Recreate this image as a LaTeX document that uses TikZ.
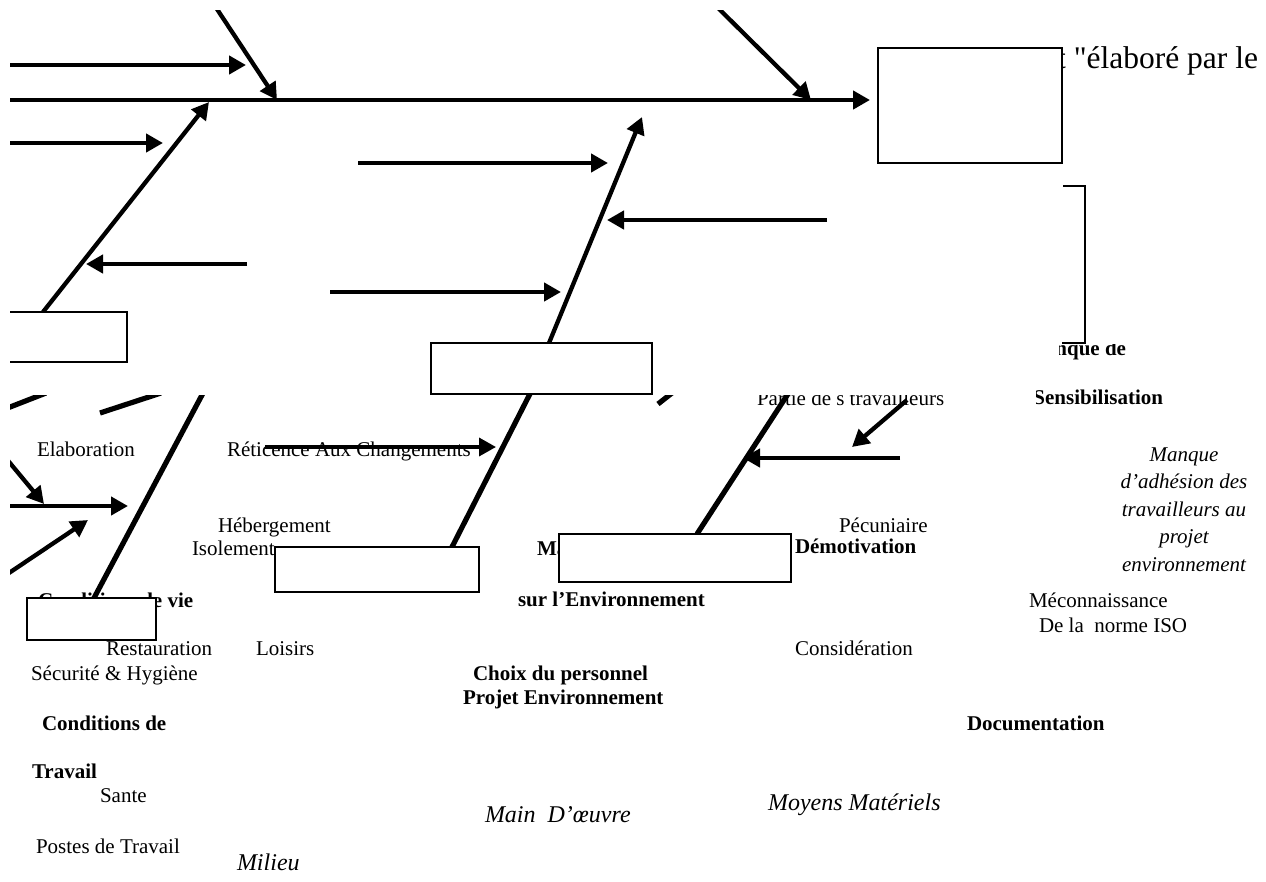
\documentclass[tikz,border=0pt]{standalone}
\usepackage{fontspec}
\setmainfont{Liberation Serif}
\newfontfamily\straightserif{Liberation Serif}[Ligatures=TeXOff]
\usetikzlibrary{arrows.meta}
\begin{document}
\begin{tikzpicture}[x=1pt,y=-1pt,
  spine/.style={line width=4.8pt},
  bone/.style={line width=4.3pt},
  heavybone/.style={line width=5.2pt},
  tip/.style={-{Triangle[length=17pt,width=18pt]}},
  frame/.style={draw,line width=2pt,fill=white,inner sep=0pt,outer sep=0pt,anchor=north west},
  txt/.style={inner sep=0pt,outer sep=0pt,anchor=base west,font=\fontsize{21}{25}\selectfont},
  btxt/.style={txt,font=\fontsize{21}{25}\selectfont\bfseries},
  itxt/.style={txt,font=\fontsize{21}{25}\selectfont\itshape},
  cat/.style={txt,font=\fontsize{24}{28}\selectfont\itshape},
]
\useasboundingbox (0,0) rectangle (1266,881);
\clip (10,10) rectangle (1266,881);

% ---------- labels ----------
\node[txt,anchor=base east,font=\fontsize{31.5}{36}\straightserif] (effect) at (1258,68) {t "élaboré par le};

\begin{scope}
  \clip (1059,344) rectangle (1200,380);
  \node[btxt,anchor=base east] (manqueDe) at (1126,355) {Manque de};
\end{scope}
\begin{scope}
  \clip (1036,380) rectangle (1200,420);
  \node[btxt,anchor=base east] (sensib) at (1163,404) {Sensibilisation};
\end{scope}

\node[txt] (elab) at (37,456) {Elaboration};
\node[txt] (retic) at (227,456) {Réticence Aux Changements};
\node[txt] (heberg) at (218,532) {Hébergement};
\node[txt] (isol) at (192,555) {Isolement};
\node[btxt] (ma) at (537,555) {Ma};
\node[btxt] (demot) at (795,553) {Démotivation};
\node[txt] (pecun) at (839,532) {Pécuniaire};
\node[btxt] (condvie) at (38,607) {Conditions de vie};
\node[btxt] (surenv) at (518,606) {sur l’Environnement};
\node[txt] (resto) at (106,655) {Restauration};
\node[txt] (loisirs) at (256,655) {Loisirs};
\node[txt] (secu) at (31,680) {Sécurité \& Hygiène};
\node[txt] (consid) at (795,655) {Considération};
\node[btxt] (choix) at (473,680) {Choix du personnel};
\node[btxt] (projenv) at (463,704) {Projet Environnement};
\node[btxt] (condtr) at (42,730) {Conditions de};
\node[btxt] (travail) at (32,778) {Travail};
\node[txt] (sante) at (100,802) {Sante};
\node[txt] (postes) at (36,853) {Postes de Travail};
\node[cat] (milieu) at (237,870) {Milieu};
\node[cat] (mainoe) at (485,822) {Main\ \ D’œuvre};
\node[cat] (moyens) at (768,810) {Moyens Matériels};
\node[btxt] (docu) at (967,730) {Documentation};
\node[txt] (mecon) at (1029,607) {Méconnaissance};
\node[txt] (norme) at (1039,632) {De la\ \ norme ISO};
\node[itxt,anchor=base] (adh1) at (1184,461) {Manque};
\node[itxt,anchor=base] (adh2) at (1184,488.5) {d’adhésion des};
\node[itxt,anchor=base] (adh3) at (1184,516) {travailleurs au};
\node[itxt,anchor=base] (adh4) at (1184,543.5) {projet};
\node[itxt,anchor=base] (adh5) at (1184,571) {environnement};

% ---------- upper skeleton ----------
\coordinate (sp0) at (0,100);    \coordinate (sp1) at (870,100);
\coordinate (a1s) at (0,65);     \coordinate (a1e) at (246,65);
\coordinate (a2s) at (211,0);    \coordinate (a2e) at (277,100);
\coordinate (a3s) at (0,143);    \coordinate (a3e) at (163,143);
\coordinate (a4s) at (43,312);   \coordinate (a4e) at (209,102);
\coordinate (a5s) at (358,163);  \coordinate (a5e) at (608,163);
\coordinate (a6s) at (710,0);    \coordinate (a6e) at (811,100);
\coordinate (a7s) at (549,343);  \coordinate (a7e) at (642,117);
\coordinate (a8s) at (827,220);  \coordinate (a8e) at (607,220);
\coordinate (a9s) at (247,264);  \coordinate (a9e) at (86,264);
\coordinate (a10s) at (330,292); \coordinate (a10e) at (561,292);

\draw[spine,-{Triangle[length=17pt,width=18pt]}] (sp0) -- (sp1);
\draw[bone,tip] (a1s) -- (a1e);
\draw[bone,tip] (a2s) -- (a2e);
\draw[bone,tip] (a3s) -- (a3e);
\draw[bone,tip] (a4s) -- (a4e);
\draw[bone,tip] (a5s) -- (a5e);
\draw[bone,tip] (a6s) -- (a6e);
\draw[bone,tip] (a7s) -- (a7e);
\draw[bone,tip] (a8s) -- (a8e);
\draw[bone,tip] (a9s) -- (a9e);
\draw[bone,tip] (a10s) -- (a10e);

% bracket on the right
\coordinate (br1) at (1063,186); \coordinate (br2) at (1085,186);
\coordinate (br3) at (1085,343); \coordinate (br4) at (1062,343);
\draw[line width=2pt] (br1) -- (br2) -- (br3) -- (br4);

% ---------- lower skeleton ----------
\begin{scope}
  \clip (0,395) rectangle (1266,881);
  \node[txt] (partie) at (757,405) {Partie de s travailleurs};
  \coordinate (d1s) at (5,409);    \coordinate (d1e) at (46,393);
  \coordinate (d2s) at (100,413);  \coordinate (d2e) at (161,393);
  \coordinate (d3s) at (658,404);  \coordinate (d3e) at (672,393);
  \coordinate (l1s) at (210,380);  \coordinate (l1e) at (94,598);
  \coordinate (l2s) at (537,380);  \coordinate (l2e) at (452,547);
  \coordinate (l3s) at (797,380);  \coordinate (l3e) at (697,534);
  \coordinate (b1s) at (0,451);    \coordinate (b1e) at (44,504);
  \coordinate (b2s) at (0,506);    \coordinate (b2e) at (128,506);
  \coordinate (b3s) at (0,579);    \coordinate (b3e) at (88,520);
  \coordinate (b4s) at (265,447);  \coordinate (b4e) at (496,447);
  \coordinate (b5s) at (907,400);  \coordinate (b5e) at (852,447);
  \coordinate (b6s) at (900,458);  \coordinate (b6e) at (743,458);
  \draw[heavybone] (d1s) -- (d1e);
  \draw[heavybone] (d2s) -- (d2e);
  \draw[heavybone] (d3s) -- (d3e);
  \draw[heavybone] (l1s) -- (l1e);
  \draw[heavybone] (l2s) -- (l2e);
  \draw[heavybone] (l3s) -- (l3e);
  \draw[bone,tip] (b1s) -- (b1e);
  \draw[bone,tip] (b2s) -- (b2e);
  \draw[bone,tip] (b3s) -- (b3e);
  \draw[line width=3.5pt,tip] (b4s) -- (b4e);
  \draw[bone,tip] (b5s) -- (b5e);
  \draw[bone,tip] (b6s) -- (b6e);
\end{scope}

% ---------- frames ----------
\node[frame,minimum width=184pt,minimum height=115pt] (head) at (878,48) {};
\node[frame,minimum width=147pt,minimum height=50pt] (boxL) at (-20,312) {};
\node[frame,minimum width=221pt,minimum height=51pt] (boxM) at (431,343) {};
\node[frame,minimum width=129pt,minimum height=42pt] (boxCV) at (27,598) {};
\node[frame,minimum width=204pt,minimum height=45pt] (boxMO) at (275,547) {};
\node[frame,minimum width=232pt,minimum height=48pt] (boxMM) at (559,534) {};
\end{tikzpicture}
\end{document}
